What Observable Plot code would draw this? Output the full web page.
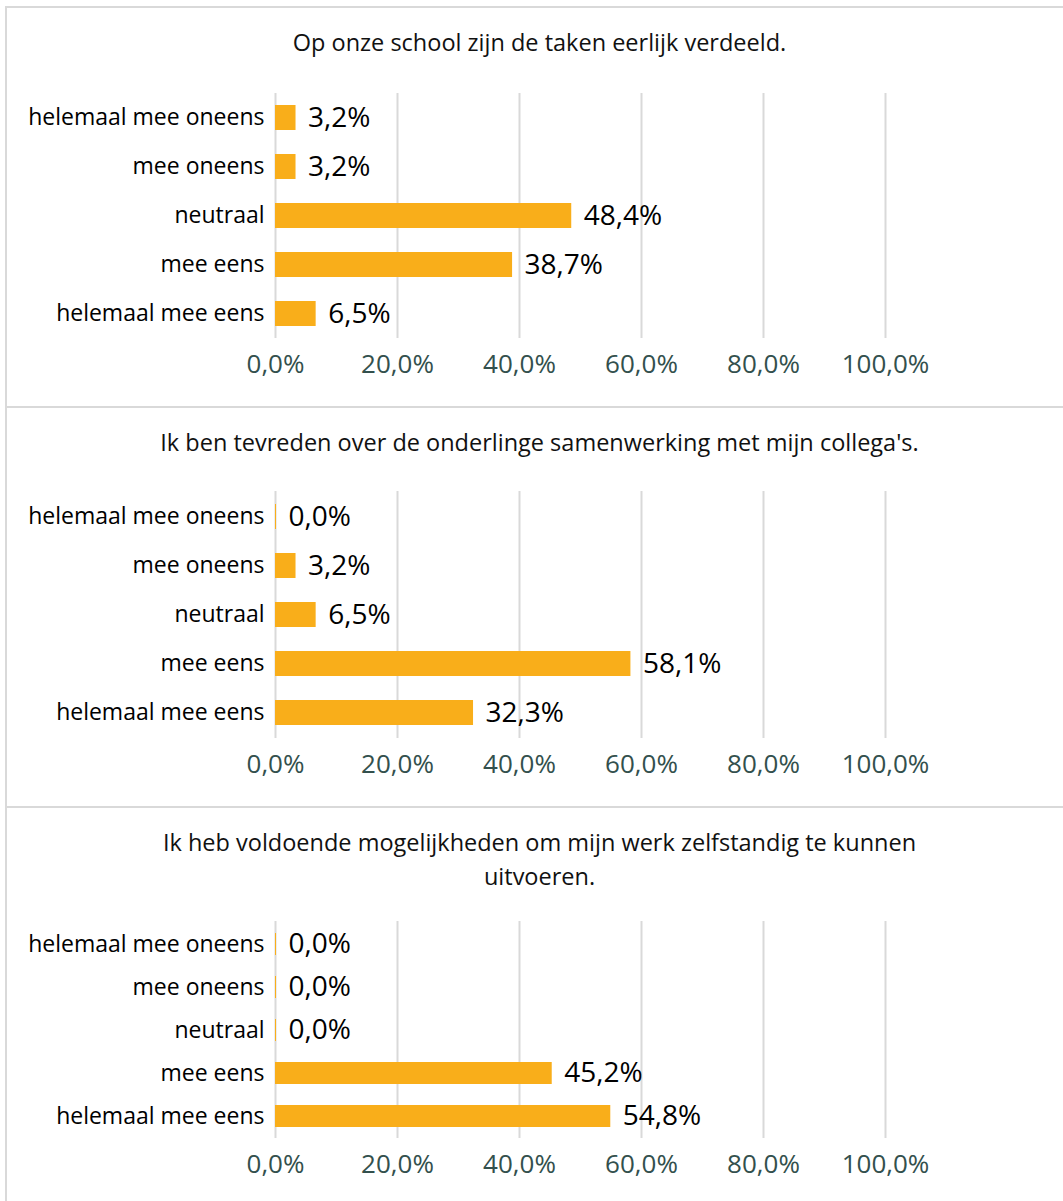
<!DOCTYPE html>
<html>
<head>
<meta charset="utf-8">
<script src="https://cdn.jsdelivr.net/npm/d3@7"></script>
<script src="https://cdn.jsdelivr.net/npm/@observablehq/plot@0.6"></script>
<style>
  html, body { margin: 0; padding: 0; background: #fff; overflow: hidden; }
  body { width: 1063px; height: 1201px; position: relative; font-family: "Open Sans", sans-serif; }
  .panel { position: absolute; left: 5px; width: 1100px; border-left: 2px solid #d9d9d9; border-top: 2px solid #d9d9d9; box-sizing: border-box; }
  .title { position: absolute; left: 0; width: 1065px; text-align: center; font-size: 23.5px; line-height: 34px; color: #111; }
  svg { position: absolute; left: 0; }
</style>
</head>
<body>
<div id="root"></div>
<script>
const categories = ["helemaal mee oneens", "mee oneens", "neutraal", "mee eens", "helemaal mee eens"];
const titles = [
  ["Op onze school zijn de taken eerlijk verdeeld."],
  ["Ik ben tevreden over de onderlinge samenwerking met mijn collega's."],
  ["Ik heb voldoende mogelijkheden om mijn werk zelfstandig te kunnen", "uitvoeren."]
];
const values1 = [3.2, 3.2, 48.4, 38.7, 6.5];
const values2 = [0.0, 3.2, 6.5, 58.1, 32.3];
const values3 = [0.0, 0.0, 0.0, 45.2, 54.8];
const xTicks = [0, 20, 40, 60, 80, 100];

const seriesList = [values1, values2, values3];
const panelTops = [6, 406, 806];
const plotTops = [87, 85, 115];
const plotBottom = 332;
const fmt = v => v.toFixed(1).replace(".", ",") + "%";

seriesList.forEach((vals, i) => {
  const top = panelTops[i];
  const panel = document.createElement("div");
  panel.className = "panel";
  panel.style.top = top + "px";
  panel.style.height = "420px";
  document.body.appendChild(panel);

  const t = document.createElement("div");
  t.className = "title";
  t.innerHTML = titles[i].join("<br>");
  t.style.top = (i === 2 ? 17 : 17) + "px";
  panel.appendChild(t);

  const data = categories.map((c, k) => ({cat: c, value: vals[k]}));
  const plotTop = plotTops[i];
  const mb = 60;
  const chart = Plot.plot({
    width: 1063,
    height: (plotBottom - plotTop) + mb,
    marginLeft: 275,
    marginRight: 178,
    marginTop: 0,
    marginBottom: mb,
    style: {fontFamily: "Open Sans", background: "transparent", overflow: "visible"},
    x: {domain: [0, 100]},
    y: {domain: categories, paddingInner: 0.5, paddingOuter: 0.25},
    marks: [
      Plot.ruleX(xTicks, {stroke: "#d9d9d9", strokeWidth: 2}),
      Plot.barX(data, {x1: 0, x2: "value", y: "cat", fill: "#f9ae1a", insetRight: -1}),
      Plot.text(data, {x: "value", y: "cat", text: d => fmt(d.value), dx: 13, textAnchor: "start", fontSize: 28, fill: "#000"}),
      Plot.axisY({tickSize: 0, tickPadding: 11, fontSize: 23, fill: "#000", label: null}),
      Plot.axisX({ticks: xTicks, tickFormat: fmt, tickSize: 0, tickPadding: 16, fontSize: 26, fill: "#33504d", label: null})
    ]
  });
  chart.style.position = "absolute";
  chart.style.left = "-7px";
  chart.style.top = (plotTop - 2) + "px";
  panel.appendChild(chart);
});
</script>
</body>
</html>
